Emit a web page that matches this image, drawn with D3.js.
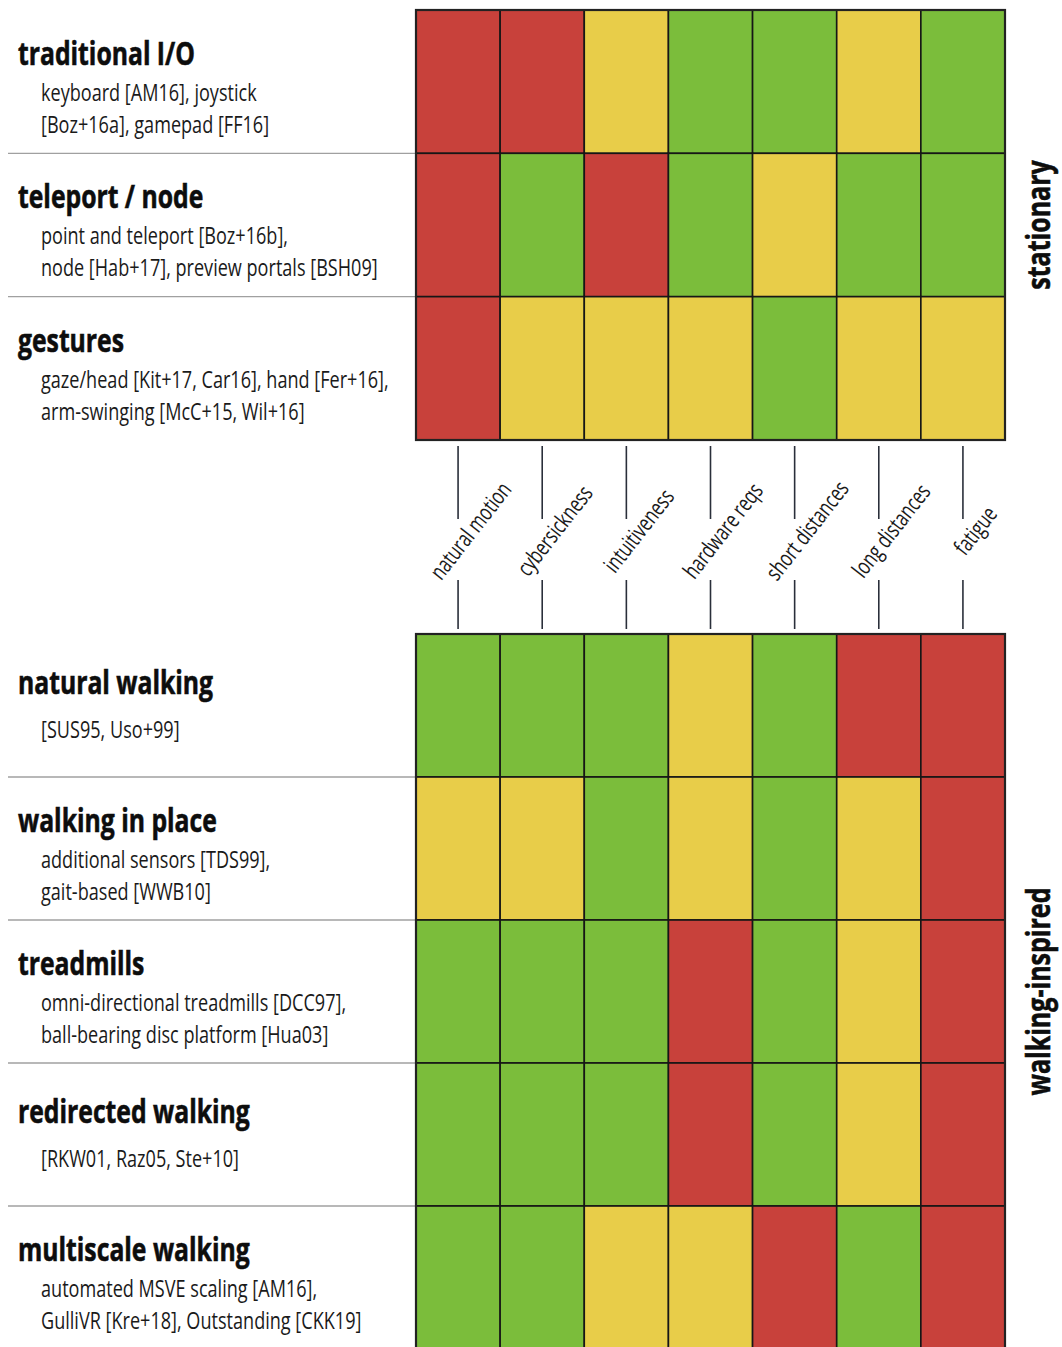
<!DOCTYPE html>
<html>
<head>
<meta charset="utf-8">
<script src="https://cdn.jsdelivr.net/npm/d3@7"></script>
<style>
  body { margin: 0; background: #fff; }
  svg { display: block; }
</style>
</head>
<body>
<script>
// criteria across the top, ratings: 0 = bad (red), 1 = medium (yellow), 2 = good (green)
const criteria = ["natural motion", "cybersickness", "intuitiveness", "hardware reqs",
                  "short distances", "long distances", "fatigue"]

const stationaryRows = ["traditional I/O", "teleport / node", "gestures"]
const stationaryRefs = [
  ["keyboard [AM16], joystick", "[Boz+16a], gamepad [FF16]"],
  ["point and teleport [Boz+16b],", "node [Hab+17], preview portals [BSH09]"],
  ["gaze/head [Kit+17, Car16], hand [Fer+16],", "arm-swinging [McC+15, Wil+16]"]
]
const stationaryRatings = [
  [0, 0, 1, 2, 2, 1, 2],
  [0, 2, 0, 2, 1, 2, 2],
  [0, 1, 1, 1, 2, 1, 1]
]

const walkingRows = ["natural walking", "walking in place", "treadmills",
                     "redirected walking", "multiscale walking"]
const walkingRefs = [
  ["[SUS95, Uso+99]"],
  ["additional sensors [TDS99],", "gait-based [WWB10]"],
  ["omni-directional treadmills [DCC97],", "ball-bearing disc platform [Hua03]"],
  ["[RKW01, Raz05, Ste+10]"],
  ["automated MSVE scaling [AM16],", "GulliVR [Kre+18], Outstanding [CKK19]"]
]
const walkingRatings = [
  [2, 2, 2, 1, 2, 0, 0],
  [1, 1, 2, 1, 2, 1, 0],
  [2, 2, 2, 0, 2, 1, 0],
  [2, 2, 2, 0, 2, 1, 0],
  [2, 2, 1, 1, 0, 2, 0]
]

const groups = ["stationary", "walking-inspired"]

const width = 1062, height = 1347
const FONT = "'Open Sans', 'Noto Sans', sans-serif"

const svg = d3.select("body").append("svg")
  .attr("width", width)
  .attr("height", height)

const color = d3.scaleOrdinal([0, 1, 2], ["#c8413b", "#e8cd49", "#7bbd3b"])

const x = d3.scaleBand(criteria, [416, 1005])

// horizontal squeeze so the humanist font looks like the condensed one in the original
function squeeze(str, size, weight, target) {
  let t = svg.append("text")
    .attr("font-family", FONT)
    .attr("font-size", size)
    .attr("font-weight", weight)
    .text(str)
  let w = t.node().getComputedTextLength()
  t.remove()
  return target / w
}

const titleSize = 33, refSize = 24.5, critSize = 23, groupSize = 32
const titleSx = squeeze("traditional I/O", titleSize, "bold", 177)
const refSx = squeeze("node [Hab+17], preview portals [BSH09]", refSize, "normal", 337)
const critSx = squeeze("natural motion", critSize, "normal", 116)
const groupSx = squeeze("walking-inspired", groupSize, "bold", 208)

function block(rows, refs, ratings, y0, y1, groupName) {
  let y = d3.scaleBand(rows, [y0, y1])
  let g = svg.append("g")

  // row separators on the left
  g.selectAll(".sep")
    .data(rows.slice(1))
    .join("line")
    .attr("x1", 8).attr("x2", x.range()[0])
    .attr("y1", d => y(d)).attr("y2", d => y(d))
    .attr("stroke", "#a0a0a0")
    .attr("stroke-width", 1.3)

  // row titles and the references under them
  rows.forEach((r, i) => {
    let lines = refs[i]
    let single = lines.length == 1
    let top = y(r) + (single ? 60 : 55)

    g.append("text")
      .attr("transform", `translate(18,${top}) scale(${titleSx},1)`)
      .attr("font-family", FONT)
      .attr("font-size", titleSize)
      .attr("font-weight", "bold")
      .attr("stroke", "#0d0d0d")
      .attr("stroke-width", 0.6)
      .attr("fill", "#0d0d0d")
      .text(r)

    g.selectAll(null)
      .data(lines)
      .join("text")
      .attr("transform", (d, j) => `translate(41,${top + (single ? 44 : 36) + j * 32}) scale(${refSx},1)`)
      .attr("font-family", FONT)
      .attr("font-size", refSize)
      .attr("fill", "#1a1a1a")
      .text(d => d)
  })

  // rating cells
  let cells = []
  ratings.forEach((row, i) => row.forEach((v, j) => cells.push({row: rows[i], col: criteria[j], v: v})))

  g.selectAll(".cell")
    .data(cells)
    .join("rect")
    .attr("x", d => x(d.col))
    .attr("y", d => y(d.row))
    .attr("width", x.bandwidth())
    .attr("height", y.bandwidth())
    .attr("fill", d => color(d.v))
    .attr("stroke", "#161616")
    .attr("stroke-width", 1.6)

  g.append("rect")
    .attr("x", x.range()[0]).attr("y", y0)
    .attr("width", x.range()[1] - x.range()[0])
    .attr("height", y1 - y0)
    .attr("fill", "none")
    .attr("stroke", "#222")
    .attr("stroke-width", 2.2)

  // group label on the right
  g.append("text")
    .attr("transform", `translate(1050,${(y0 + y1) / 2}) rotate(-90) scale(${groupSx},1)`)
    .attr("text-anchor", "middle")
    .attr("font-family", FONT)
    .attr("font-size", groupSize)
    .attr("font-weight", "bold")
    .attr("stroke", "#0d0d0d")
    .attr("stroke-width", 0.6)
    .attr("fill", "#0d0d0d")
    .text(groupName)
}

block(stationaryRows, stationaryRefs, stationaryRatings, 10, 440, groups[0])
block(walkingRows, walkingRefs, walkingRatings, 634, 1349, groups[1])

// criteria labels between the two grids
const mid = x.bandwidth() / 2
const crit = svg.append("g")

crit.selectAll(".tick-top")
  .data(criteria)
  .join("line")
  .attr("x1", d => x(d) + mid).attr("x2", d => x(d) + mid)
  .attr("y1", 446).attr("y2", 519)
  .attr("stroke", "#2a2f3a")
  .attr("stroke-width", 1.6)

crit.selectAll(".tick-bottom")
  .data(criteria)
  .join("line")
  .attr("x1", d => x(d) + mid).attr("x2", d => x(d) + mid)
  .attr("y1", 580).attr("y2", 629)
  .attr("stroke", "#2a2f3a")
  .attr("stroke-width", 1.6)

crit.selectAll(".label")
  .data(criteria)
  .join("text")
  .attr("transform", d => `translate(${x(d) + mid + 13},${531}) rotate(-52) scale(${critSx},1)`)
  .attr("text-anchor", "middle")
  .attr("dy", "0.32em")
  .attr("font-family", FONT)
  .attr("font-size", critSize)
  .attr("fill", "#1a1a1a")
  .text(d => d)
</script>
</body>
</html>
